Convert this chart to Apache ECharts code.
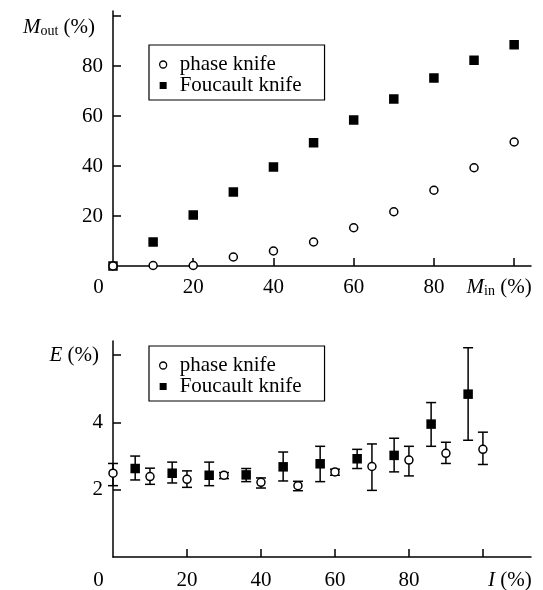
<!DOCTYPE html>
<html>
<head>
<meta charset="utf-8">
<script src="https://cdn.jsdelivr.net/npm/echarts@6/dist/echarts.min.js"></script>
<style>
  html, body { margin: 0; padding: 0; background: #fff; }
  #chart { width: 543px; height: 590px; }
</style>
</head>
<body>
<div id="chart"></div>
<script>
// Upper panel: output modulation vs input modulation
const minValues = [0, 10, 20, 30, 40, 50, 60, 70, 80, 90, 100];
const moutPhase = [0, 0.2, 0.2, 3.6, 6.0, 9.6, 15.3, 21.7, 30.3, 39.3, 49.6];
const moutFoucault = [0, 9.6, 20.4, 29.6, 39.6, 49.3, 58.4, 66.8, 75.2, 82.3, 88.5];

// Lower panel: error E vs intensity I, with error bars
const iPhase = [0, 10, 20, 30, 40, 50, 60, 70, 80, 90, 100];
const ePhase = [2.49, 2.39, 2.31, 2.43, 2.22, 2.12, 2.53, 2.69, 2.88, 3.08, 3.20];
const ePhaseLo = [2.12, 2.16, 2.07, 2.33, 2.05, 1.97, 2.43, 1.98, 2.41, 2.78, 2.75];
const ePhaseHi = [2.78, 2.64, 2.56, 2.51, 2.35, 2.25, 2.61, 3.36, 3.29, 3.41, 3.71];

const iFoucault = [6, 16, 26, 36, 46, 56, 66, 76, 86, 96];
const eFoucault = [2.63, 2.49, 2.43, 2.44, 2.68, 2.77, 2.92, 3.02, 3.95, 4.84];
const eFoucaultLo = [2.29, 2.20, 2.12, 2.24, 2.26, 2.24, 2.63, 2.53, 3.29, 3.47];
const eFoucaultHi = [3.00, 2.82, 2.82, 2.63, 3.12, 3.29, 3.20, 3.53, 4.59, 6.22];

// Tick positions and labels
const topXLabelValues = [0, 20, 40, 60, 80, 100];
const topXTickValues = [20, 40, 60, 80, 100];
const topYLabelValues = [20, 40, 60, 80, 100];
const bottomXLabelValues = [0, 20, 40, 60, 80, 100];
const bottomXTickValues = [20, 40, 60, 80, 100];
const bottomYLabelValues = [2, 4, 6];

const legendNames = ['phase knife', 'Foucault knife'];

const INK = '#000';
const FONT = 'Liberation Serif';
const FS = 21;

const zip = (a, b) => a.map((v, i) => [v, b[i]]);
const zip3 = (a, b, c) => a.map((v, i) => [v, b[i], c[i]]);

const rich = {
  t: { fontFamily: FONT, fontSize: FS, color: INK, lineHeight: 22 },
  i: { fontFamily: FONT, fontSize: FS, color: INK, fontStyle: 'italic', lineHeight: 22 },
  s: { fontFamily: FONT, fontSize: 14, color: INK, verticalAlign: 'bottom', lineHeight: 22, padding: [4, 0, 0, 0] },
  e: { fontFamily: FONT, fontSize: 10, color: INK, height: 23, lineHeight: 23 },
  sp0: { width: 29, fontSize: FS, lineHeight: 22 },
  spM: { width: 30, fontSize: FS, lineHeight: 22 },
  spI: { width: 54, fontSize: FS, lineHeight: 22 },
  spY: { width: 8, fontSize: FS, lineHeight: 22 },
  spE: { width: 4, fontSize: FS, lineHeight: 22 }
};

const axisLine = { show: true, onZero: false, lineStyle: { color: INK, width: 1.5 } };
const axisTick = (vals) => ({ show: true, inside: true, length: 8, customValues: vals, lineStyle: { color: INK, width: 1.5 } });

function errorBars(params, api) {
  const x = api.value(0);
  const lo = api.coord([x, api.value(1)]);
  const hi = api.coord([x, api.value(2)]);
  const w = 5;
  const st = { stroke: INK, lineWidth: 1.5 };
  return {
    type: 'group',
    children: [
      { type: 'line', shape: { x1: lo[0], y1: lo[1], x2: hi[0], y2: hi[1] }, style: st },
      { type: 'line', shape: { x1: hi[0] - w, y1: hi[1], x2: hi[0] + w, y2: hi[1] }, style: st },
      { type: 'line', shape: { x1: lo[0] - w, y1: lo[1], x2: lo[0] + w, y2: lo[1] }, style: st }
    ]
  };
}

const legendBase = {
  orient: 'vertical',
  left: 149,
  padding: [9, 23, 4, 10],
  borderColor: INK,
  borderWidth: 1.2,
  itemGap: 0,
  itemWidth: 7,
  itemHeight: 7,
  selectedMode: false,
  textStyle: { fontFamily: FONT, fontSize: FS, color: INK, lineHeight: 20, padding: [0, 0, 0, 8] },
  data: [
    { name: legendNames[0], icon: 'circle', itemStyle: { color: '#fff', borderColor: INK, borderWidth: 1.3, opacity: 1 } },
    { name: legendNames[1], icon: 'rect', itemStyle: { color: INK, borderWidth: 0, opacity: 1 } }
  ]
};

const option = {
  animation: false,
  backgroundColor: '#fff',
  legend: [
    Object.assign({}, legendBase, { top: 45 }),
    Object.assign({}, legendBase, { top: 346 })
  ],
  grid: [
    { left: 113, right: 12, top: 11, height: 255, outerBoundsMode: 'none', containLabel: false },
    { left: 113, right: 12, top: 341, height: 216, outerBoundsMode: 'none', containLabel: false }
  ],
  xAxis: [
    {
      type: 'value', gridIndex: 0, min: 0, max: 104.2,
      axisLine, axisTick: axisTick(topXTickValues), splitLine: { show: false },
      axisLabel: {
        customValues: topXLabelValues, margin: 10, rich,
        formatter: (v) => v === 0 ? '{t|0}{sp0| }' : v === 100 ? '{i|M}{s|in}{t| (%)}{spM| }' : '{t|' + v + '}'
      }
    },
    {
      type: 'value', gridIndex: 1, min: 0, max: 113,
      axisLine, axisTick: axisTick(bottomXTickValues), splitLine: { show: false },
      axisLabel: {
        customValues: bottomXLabelValues, margin: 12, rich,
        formatter: (v) => v === 0 ? '{t|0}{sp0| }' : v === 100 ? '{spI| }{i|I}{t| (%)}' : '{t|' + v + '}'
      }
    }
  ],
  yAxis: [
    {
      type: 'value', gridIndex: 0, min: 0, max: 102,
      axisLine, axisTick: axisTick(topYLabelValues), splitLine: { show: false },
      axisLabel: {
        customValues: topYLabelValues, margin: 10, rich,
        formatter: (v) => v === 100 ? '{e| }\n{i|M}{s|out}{t| (%)}{spY| }' : '{t|' + v + '}'
      }
    },
    {
      type: 'value', gridIndex: 1, min: 0, max: 6.42,
      axisLine, axisTick: axisTick(bottomYLabelValues), splitLine: { show: false },
      axisLabel: {
        customValues: bottomYLabelValues, margin: 10, rich,
        formatter: (v) => v === 6 ? '{i|E}{t| (%)}{spE| }' : '{t|' + v + '}'
      }
    }
  ],
  series: [
    {
      name: legendNames[1], type: 'scatter', xAxisIndex: 0, yAxisIndex: 0,
      symbol: 'rect', symbolSize: 9.5, itemStyle: { color: INK, opacity: 1 },
      data: zip(minValues, moutFoucault), z: 3
    },
    {
      name: legendNames[0], type: 'scatter', xAxisIndex: 0, yAxisIndex: 0,
      symbol: 'circle', symbolSize: 8,
      itemStyle: { color: '#fff', borderColor: INK, borderWidth: 1.5, opacity: 1 },
      data: zip(minValues, moutPhase), z: 4
    },
    {
      name: 'phase knife bars', type: 'custom', xAxisIndex: 1, yAxisIndex: 1,
      renderItem: errorBars, encode: { x: 0, y: [1, 2] },
      data: zip3(iPhase, ePhaseLo, ePhaseHi), z: 2
    },
    {
      name: 'Foucault knife bars', type: 'custom', xAxisIndex: 1, yAxisIndex: 1,
      renderItem: errorBars, encode: { x: 0, y: [1, 2] },
      data: zip3(iFoucault, eFoucaultLo, eFoucaultHi), z: 2
    },
    {
      name: legendNames[1], type: 'scatter', xAxisIndex: 1, yAxisIndex: 1,
      symbol: 'rect', symbolSize: 9.5, itemStyle: { color: INK, opacity: 1 },
      data: zip(iFoucault, eFoucault), z: 3
    },
    {
      name: legendNames[0], type: 'scatter', xAxisIndex: 1, yAxisIndex: 1,
      symbol: 'circle', symbolSize: 8,
      itemStyle: { color: '#fff', borderColor: INK, borderWidth: 1.5, opacity: 1 },
      data: zip(iPhase, ePhase), z: 4
    }
  ]
};

const chart = echarts.init(document.getElementById('chart'), null, { renderer: 'canvas' });
chart.setOption(option);
</script>
</body>
</html>
